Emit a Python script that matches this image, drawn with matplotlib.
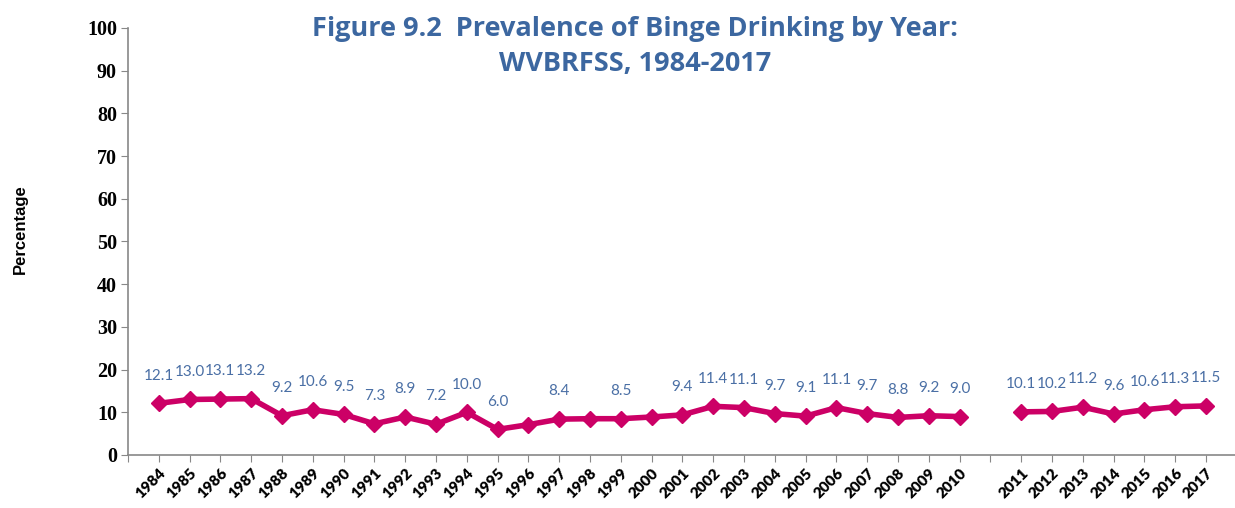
import numpy as np
import matplotlib
matplotlib.use("Agg")
import matplotlib.pyplot as plt

# categorias del eje x (hueco entre 2010 y 2011)
years = [str(y) for y in range(1984, 2011)] + [""] + [str(y) for y in range(2011, 2018)]

# prevalencia (%) por año, NaN en el hueco
values = [12.1, 13.0, 13.1, 13.2, 9.2, 10.6, 9.5, 7.3, 8.9, 7.2,
          10.0, 6.0, 7.1, 8.4, 8.5, 8.5, 8.9, 9.4, 11.4, 11.1,
          9.7, 9.1, 11.1, 9.7, 8.8, 9.2, 9.0,
          np.nan,
          10.1, 10.2, 11.2, 9.6, 10.6, 11.3, 11.5]

# etiquetas visibles (algunos años no tienen etiqueta)
labels = ["12.1", "13.0", "13.1", "13.2", "9.2", "10.6", "9.5", "7.3", "8.9", "7.2",
          "10.0", "6.0", None, "8.4", None, "8.5", None, "9.4", "11.4", "11.1",
          "9.7", "9.1", "11.1", "9.7", "8.8", "9.2", "9.0",
          None,
          "10.1", "10.2", "11.2", "9.6", "10.6", "11.3", "11.5"]

y_ticks = list(range(0, 101, 10))

title = "Figure 9.2  Prevalence of Binge Drinking by Year:\nWVBRFSS, 1984-2017"

fig = plt.figure(figsize=(12.35, 5.08), dpi=100)
ax = fig.add_axes([128 / 1235, 53 / 508, 1107 / 1235, 427 / 508])

x = np.arange(len(years))
ax.plot(x, values, color="#CC0066", linewidth=4, marker="D", markersize=8,
        markeredgecolor="#CC0066", markerfacecolor="#CC0066", solid_joinstyle="round")

for xi, v, lab in zip(x, values, labels):
    if lab is None:
        continue
    ax.annotate(lab, (xi, v), xytext=(0, 20), textcoords="offset points",
                ha="center", va="center", fontsize=11, color="#4A6FA5",
                family=["Lato", "DejaVu Sans"])

ax.set_xlim(-1, 34.94)
ax.set_ylim(0, 100)
ax.set_yticks(y_ticks)
ax.set_yticklabels([str(t) for t in y_ticks], family="Liberation Serif",
                   fontweight="bold", fontsize=14.5)
ax.set_xticks(np.arange(-1, 35))
ax.set_xticklabels([""] + years, rotation=45, ha="right", va="top",
                   rotation_mode="anchor", family="Lato", fontweight="heavy",
                   fontsize=11)
ax.tick_params(axis="y", length=5, color="#888888", pad=3)
ax.tick_params(axis="x", length=5, color="#888888", pad=3)

for s in ["top", "right"]:
    ax.spines[s].set_visible(False)
for s in ["left", "bottom"]:
    ax.spines[s].set_color("#888888")
    ax.spines[s].set_linewidth(1.2)

fig.text(20 / 1235, 1 - 229 / 508, "Percentage", rotation=90, ha="center",
         va="center", fontsize=12, fontweight="bold",
         family=["Liberation Sans Narrow", "Liberation Sans"])

fig.text(635 / 1235, 1 - 46 / 508, title, ha="center", va="center",
         fontsize=19.5, fontweight="bold", color="#3C67A0", linespacing=1.45,
         family=["Open Sans", "DejaVu Sans"])

fig.savefig("out.png", dpi=100)
